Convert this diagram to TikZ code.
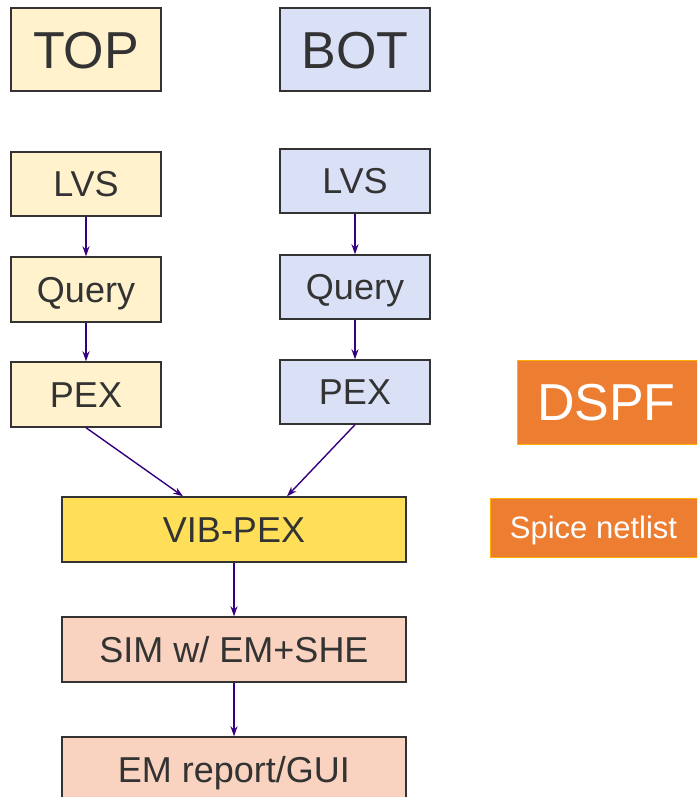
\documentclass[tikz,border=0pt]{standalone}
\usepackage{fontspec}
\setmainfont{Liberation Sans}
\usetikzlibrary{arrows.meta,calc}
\definecolor{txt}{HTML}{333333}
\definecolor{topfill}{HTML}{FFF2CC}
\definecolor{botfill}{HTML}{DAE1F7}
\definecolor{vibfill}{HTML}{FFDF57}
\definecolor{simfill}{HTML}{F9D3C0}
\definecolor{orangefill}{HTML}{ED7D31}
\definecolor{orangeline}{HTML}{FFB000}
\definecolor{arrowcol}{HTML}{35007F}
\begin{document}
\begin{tikzpicture}[x=1pt,y=-1pt,
  box/.style={draw=txt,line width=1.4pt,text=txt,inner sep=0pt,
    text height=25.8pt,text depth=0pt,align=center,font=\fontsize{36}{40}\selectfont},
  bigbox/.style={box,text height=37.2pt,font=\fontsize{52}{56}\selectfont},
  topbox/.style={fill=topfill},
  botbox/.style={fill=botfill},
  orangebox/.style={draw=orangeline,line width=1pt,fill=orangefill,text=white,inner sep=0pt,
    text depth=0pt},
  flow/.style={draw=arrowcol,line width=1.4pt,-{Stealth[length=10pt,width=7pt]}}
]
\useasboundingbox (0,0) rectangle (697,797);
\clip (0,0) rectangle (697,797);

\node[bigbox,topbox,minimum width=150pt,minimum height=83pt] (top) at (86,49.5) {TOP};
\node[bigbox,botbox,minimum width=150pt,minimum height=83pt] (bot) at (355,49.5) {BOT};

\node[box,topbox,minimum width=150pt,minimum height=64pt] (lvsl) at (86,184) {LVS};
\node[box,topbox,minimum width=150pt,minimum height=65pt] (queryl) at (86,289.5) {Query};
\node[box,topbox,minimum width=150pt,minimum height=65pt] (pexl) at (86,394.5) {PEX};

\node[box,botbox,minimum width=150pt,minimum height=64pt] (lvsr) at (355,181) {LVS};
\node[box,botbox,minimum width=150pt,minimum height=64pt] (queryr) at (355,287) {Query};
\node[box,botbox,minimum width=150pt,minimum height=64pt] (pexr) at (355,392) {PEX};

\node[box,fill=vibfill,minimum width=344pt,minimum height=65pt] (vib) at (234,529.5) {VIB-PEX};
\node[box,fill=simfill,minimum width=344pt,minimum height=65pt] (sim) at (234,649.5) {SIM w/ EM+SHE};
\node[box,fill=simfill,minimum width=344pt,minimum height=65pt] (em) at (234,769.5) {EM report/GUI};

\node[orangebox,text height=37.2pt,font=\fontsize{52}{56}\selectfont,minimum width=184pt,minimum height=84pt,
  text width=184pt,align=left] (dspf) at (609,402) {\hspace*{20pt}DSPF};
\node[orangebox,text height=22.2pt,font=\fontsize{31}{35}\selectfont,minimum width=207pt,minimum height=59pt] (spice) at (593.5,527.5) {Spice netlist};

\draw[flow] (lvsl) -- (queryl);
\draw[flow] (queryl) -- (pexl);
\draw[flow] (lvsr) -- (queryr);
\draw[flow] (queryr) -- (pexr);
\draw[flow] (pexl.south) -- ([xshift=-51pt]vib.north);
\draw[flow] (pexr.south) -- ([xshift=53pt]vib.north);
\draw[flow] (vib) -- (sim);
\draw[flow] (sim) -- (em);
\end{tikzpicture}
\end{document}
